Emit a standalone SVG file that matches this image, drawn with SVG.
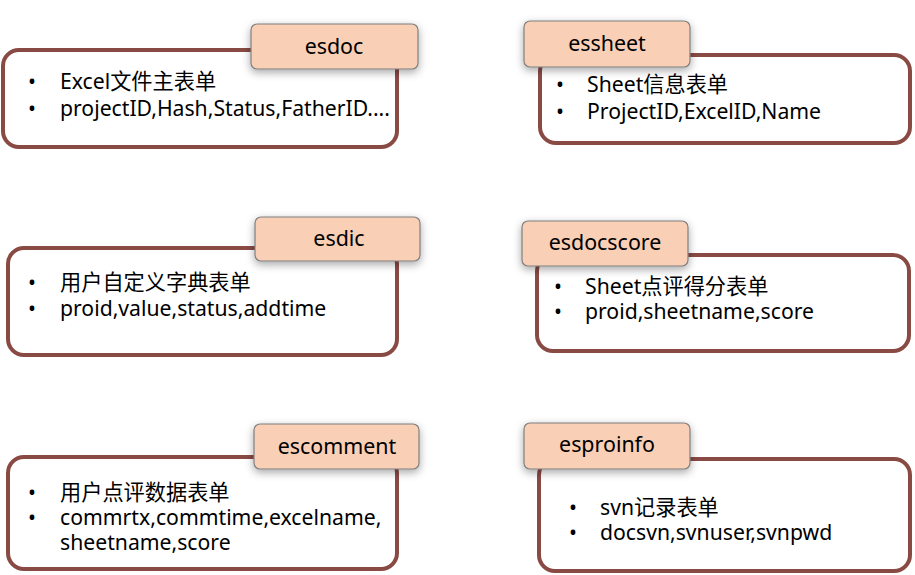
<svg xmlns="http://www.w3.org/2000/svg" width="915" height="575" viewBox="0 0 915 575">
<defs>
<filter id="sh" x="-20%" y="-30%" width="140%" height="170%">
<feDropShadow dx="0" dy="3" stdDeviation="4" flood-color="#000" flood-opacity="0.35"/>
</filter>
<style>
.box{fill:#fff;stroke:#8a4a44;stroke-width:4}
.tag{fill:#f9cfb6;stroke:#7f7f7f;stroke-width:1.2;filter:url(#sh)}
.t{font-family:"Noto Sans","Noto Sans CJK SC",sans-serif;font-size:21.2px;fill:#000}
.lbl{font-family:"Noto Sans","Noto Sans CJK SC",sans-serif;font-size:21.4px;fill:#000;text-anchor:middle}
</style>
</defs>
<rect width="915" height="575" fill="#fff"/>
<g id="connectors"/>
<g id="esdoc">
<rect class="box" x="3" y="50" width="394" height="97" rx="16"/>
<rect class="tag" x="251" y="24" width="167" height="45" rx="6"/>
<text class="lbl" x="334" y="54">esdoc</text>
<text class="t"><tspan x="28" y="89">•</tspan><tspan x="60" y="89">Excel文件主表单</tspan><tspan x="28" y="116">•</tspan><tspan x="60" y="116">projectID,Hash,Status,FatherID....</tspan></text>
</g>
<g id="essheet">
<rect class="box" x="540" y="55" width="370" height="88" rx="16"/>
<rect class="tag" x="524" y="21" width="166" height="46" rx="6"/>
<text class="lbl" x="607" y="51">essheet</text>
<text class="t"><tspan x="556" y="92">•</tspan><tspan x="587" y="92">Sheet信息表单</tspan><tspan x="556" y="119">•</tspan><tspan x="587" y="119">ProjectID,ExcelID,Name</tspan></text>
</g>
<g id="esdic">
<rect class="box" x="8" y="248" width="389" height="107" rx="16"/>
<rect class="tag" x="255" y="217" width="165" height="44" rx="6"/>
<text class="lbl" x="339" y="246">esdic</text>
<text class="t"><tspan x="28" y="290">•</tspan><tspan x="60" y="290">用户自定义字典表单</tspan><tspan x="28" y="316">•</tspan><tspan x="60" y="316">proid,value,status,addtime</tspan></text>
</g>
<g id="esdocscore">
<rect class="box" x="537" y="255" width="372" height="96" rx="16"/>
<rect class="tag" x="522" y="221" width="166" height="45" rx="6"/>
<text class="lbl" x="605" y="250">esdocscore</text>
<text class="t"><tspan x="554" y="294">•</tspan><tspan x="585" y="294">Sheet点评得分表单</tspan><tspan x="554" y="319">•</tspan><tspan x="585" y="319">proid,sheetname,score</tspan></text>
</g>
<g id="escomment">
<rect class="box" x="8" y="457" width="389" height="112" rx="16"/>
<rect class="tag" x="254" y="424" width="165" height="45" rx="6"/>
<text class="lbl" x="337" y="454">escomment</text>
<text class="t"><tspan x="28" y="500">•</tspan><tspan x="60" y="500">用户点评数据表单</tspan><tspan x="28" y="525">•</tspan><tspan x="60" y="525">commrtx,commtime,excelname,</tspan><tspan x="60" y="550">sheetname,score</tspan></text>
</g>
<g id="esproinfo">
<rect class="box" x="539" y="459" width="371" height="112" rx="16"/>
<rect class="tag" x="524" y="423" width="166" height="46" rx="6"/>
<text class="lbl" x="607" y="452">esproinfo</text>
<text class="t"><tspan x="569" y="515">•</tspan><tspan x="600" y="515">svn记录表单</tspan><tspan x="569" y="540">•</tspan><tspan x="600" y="540">docsvn,svnuser,svnpwd</tspan></text>
</g>
</svg>
